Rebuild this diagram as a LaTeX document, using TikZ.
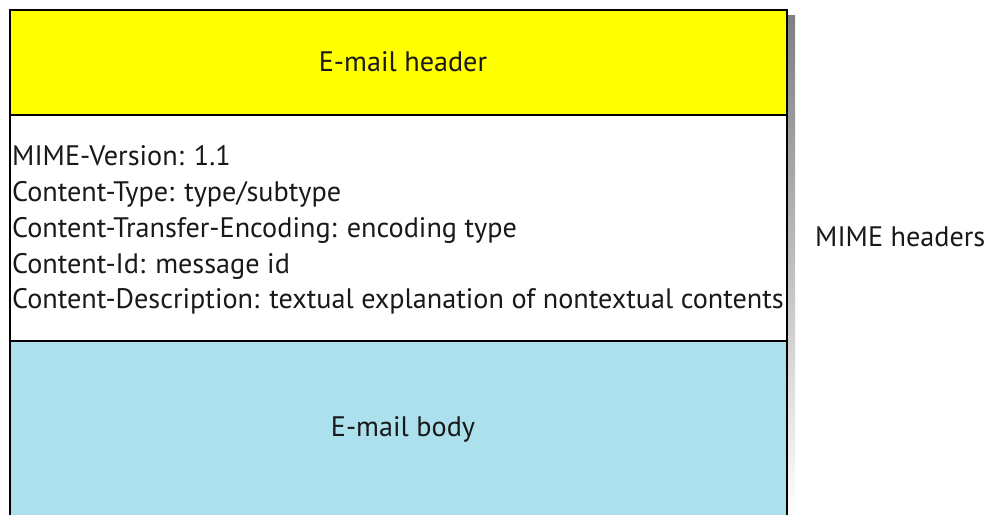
\documentclass[tikz,border=0pt]{standalone}
\usepackage{fontspec}
\setmainfont{PT Sans}
\begin{document}
\begin{tikzpicture}[x=1pt,y=-1pt,
  frame/.style={draw=black,line width=2.5pt},
  label/.style={font=\fontsize{28.2}{33}\selectfont,text=black!90,inner sep=0pt},
  field/.style={label,anchor=base west}]
\definecolor{hdryellow}{RGB}{255,255,0}
\definecolor{bodyblue}{RGB}{173,224,237}
\definecolor{shade}{RGB}{20,20,20}
\useasboundingbox (0,0) rectangle (988,515);
% the three parts of the message
\filldraw[frame,fill=hdryellow] (10,10) rectangle (787,115);
\filldraw[frame,fill=white] (10,115) rectangle (787,341);
\fill[bodyblue] (10,341) rectangle (787,515);
\draw[frame] (10,515) |- (787,341) -- (787,515);
% drop shadow along the right edge
\fill[shade] (788.2,15) rectangle (795,515);
\node[label] (hdr) at (403,62) {E-mail header};
\node[label] (body) at (403,429) {E-mail body};
\node[field] (f1) at (12,165) {MIME-Version: 1.1};
\node[field] (f2) at (12,201) {Content-Type: type/subtype};
\node[field] (f3) at (12,237) {Content-Transfer-Encoding: encoding type};
\node[field] (f4) at (12,273) {Content-Id: message id};
\node[field] (f5) at (12,308) {Content-Description: textual explanation of nontextual contents};
\node[label,anchor=base west] (mime) at (815,246) {MIME headers};
\end{tikzpicture}
\end{document}
